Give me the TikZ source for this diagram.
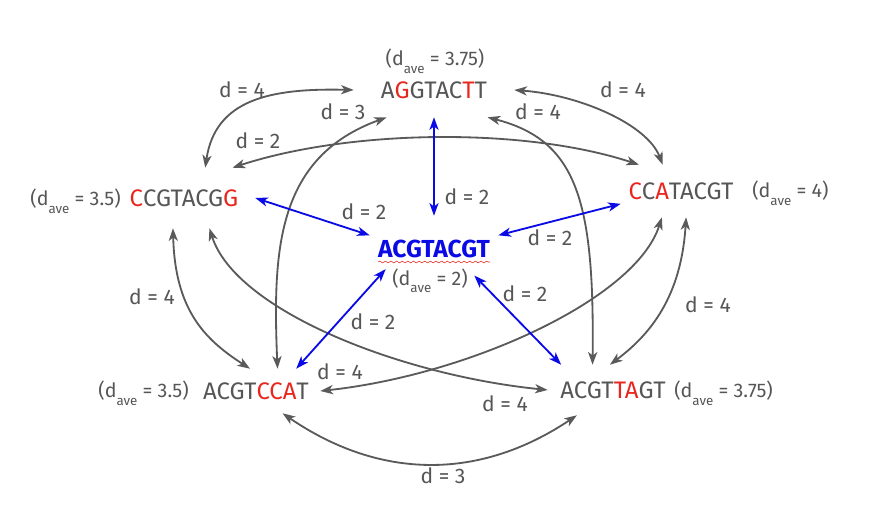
\documentclass[tikz,border=0pt]{standalone}
\usepackage{fontspec}
\setmainfont{Fira Sans}
\usepackage{tikz}
\usetikzlibrary{arrows.meta,decorations.pathmorphing}
\definecolor{txtgrey}{HTML}{565656}
\definecolor{arrgrey}{HTML}{5A5A5A}
\definecolor{mutred}{HTML}{E8261E}
\definecolor{centblue}{HTML}{0A0AE6}
\newcommand{\mut}[1]{\textcolor{mutred}{#1}}
\newcommand{\davg}[1]{(d\raisebox{-0.7ex}{\fontsize{9.5}{10}\selectfont ave} = #1)}

\begin{document}
\begin{tikzpicture}[x=0.025cm,y=-0.025cm,
    seq/.style={font=\fontsize{17}{19}\selectfont,text=txtgrey,inner sep=0pt},
    dlab/.style={font=\fontsize{15}{17}\selectfont,text=txtgrey,inner sep=0pt},
    dave/.style={font=\fontsize{14}{16}\selectfont,text=txtgrey,inner sep=0pt},
    gline/.style={arrgrey,line width=1.3pt,{Stealth[length=9pt,width=6.5pt,inset=2.5pt]}-{Stealth[length=9pt,width=6.5pt,inset=2.5pt]}},
    bline/.style={centblue,line width=1.3pt,{Stealth[length=9pt,width=6.5pt,inset=2.5pt]}-{Stealth[length=9pt,width=6.5pt,inset=2.5pt]}}]
  \useasboundingbox (0,0) rectangle (888,530);

  % sequences
  \node[seq,minimum width=4cm,minimum height=1.35cm] (T) at (434,90) {A\mut{G}GTAC\mut{T}T};
  \node[seq,minimum width=3.55cm,minimum height=1.5cm] (L) at (184,198) {\mut{C}CGTACG\mut{G}};
  \node[seq,minimum width=3cm,minimum height=1.3cm] (R) at (681,191) {\mut{C}C\mut{A}TACGT};
  \node[seq,font=\fontsize{17.5}{19}\selectfont\bfseries,text=centblue,minimum width=3.2cm,minimum height=1.65cm] (C) at (434,249) {ACGTACGT};
  \node[dave,minimum width=2.2cm,minimum height=0.6cm] (Cd) at (430,281) {\davg{2}};
  \node[seq,minimum width=3.2cm,minimum height=1.1cm] (BL) at (256,391) {ACGT\mut{CCA}T};
  \node[seq,minimum width=3.25cm,minimum height=1.25cm] (BR) at (613,390) {ACGT\mut{TA}GT};

  % average distances
  \node[dave,anchor=base] (Tav) at (435,66) {\davg{3.75}};
  \node[dave,anchor=base east] (Lav) at (121,206) {\davg{3.5}};
  \node[dave,anchor=base west] (Rav) at (752,198) {\davg{4}};
  \node[dave,anchor=base east] (BLav) at (189,398) {\davg{3.5}};
  \node[dave,anchor=base west] (BRav) at (674,398) {\davg{3.75}};

  \draw[mutred,line width=0.4pt,decorate,decoration={snake,segment length=4pt,amplitude=0.6pt}] (378,262) -- (490,262);

  % grey connectors
  \draw[gline] (L.55) .. controls +(10,-68) and +(-84,-2) .. (T.west);
  \draw[gline] (L.32) .. controls +(116,-38) and +(-116,-38) .. (R.148);
  \draw[gline] (T.east) .. controls +(66,5) and +(-15,-40) .. (R.125);
  \draw[gline] (T.210) .. controls +(-110,40) and +(-5,-119) .. (BL.46);
  \draw[gline] (T.333) .. controls +(89,23) and +(2,-165) .. (BR.129);
  \draw[gline] (L.250) .. controls +(2,82) and +(-45,-29) .. (BL.105);
  \draw[gline] (L.310) .. controls +(26,82) and +(-148,-15) .. (BR.west);
  \draw[gline] (R.234) .. controls +(-26,82) and +(148,-16) .. (BL.east);
  \draw[gline] (R.281) .. controls +(-5,80) and +(40,-30) .. (BR.97);
  \draw[gline] (BL.320) .. controls +(98,67) and +(-97,65) .. (BR.215);

  % blue connectors
  \draw[bline] (T.south) -- (C.north);
  \draw[bline] (L.east) -- (C.168);
  \draw[bline] (R.192) -- (C.12);
  \draw[bline] (BL.29) -- (Cd.165);
  \draw[bline] (BR.154) -- (Cd.7);

  % distance labels
  \node[dlab] (dTL) at (242,90) {d = 4};
  \node[dlab] (dTBL) at (343,112) {d = 3};
  \node[dlab] (dTBR) at (538,112) {d = 4};
  \node[dlab] (dTR) at (623,90) {d = 4};
  \node[dlab] (dLR) at (258,141) {d = 2};
  \node[dlab] (dTC) at (467,197) {d = 2};
  \node[dlab] (dLC) at (364,212) {d = 2};
  \node[dlab] (dRC) at (550,238) {d = 2};
  \node[dlab] (dLBL) at (152,297) {d = 4};
  \node[dlab] (dBLC) at (373,322) {d = 2};
  \node[dlab] (dBRC) at (525,294) {d = 2};
  \node[dlab] (dRBR) at (708,305) {d = 4};
  \node[dlab] (dRBL) at (340,372) {d = 4};
  \node[dlab] (dLBR) at (505,404) {d = 4};
  \node[dlab] (dBB) at (443,476) {d = 3};
\end{tikzpicture}
\end{document}
